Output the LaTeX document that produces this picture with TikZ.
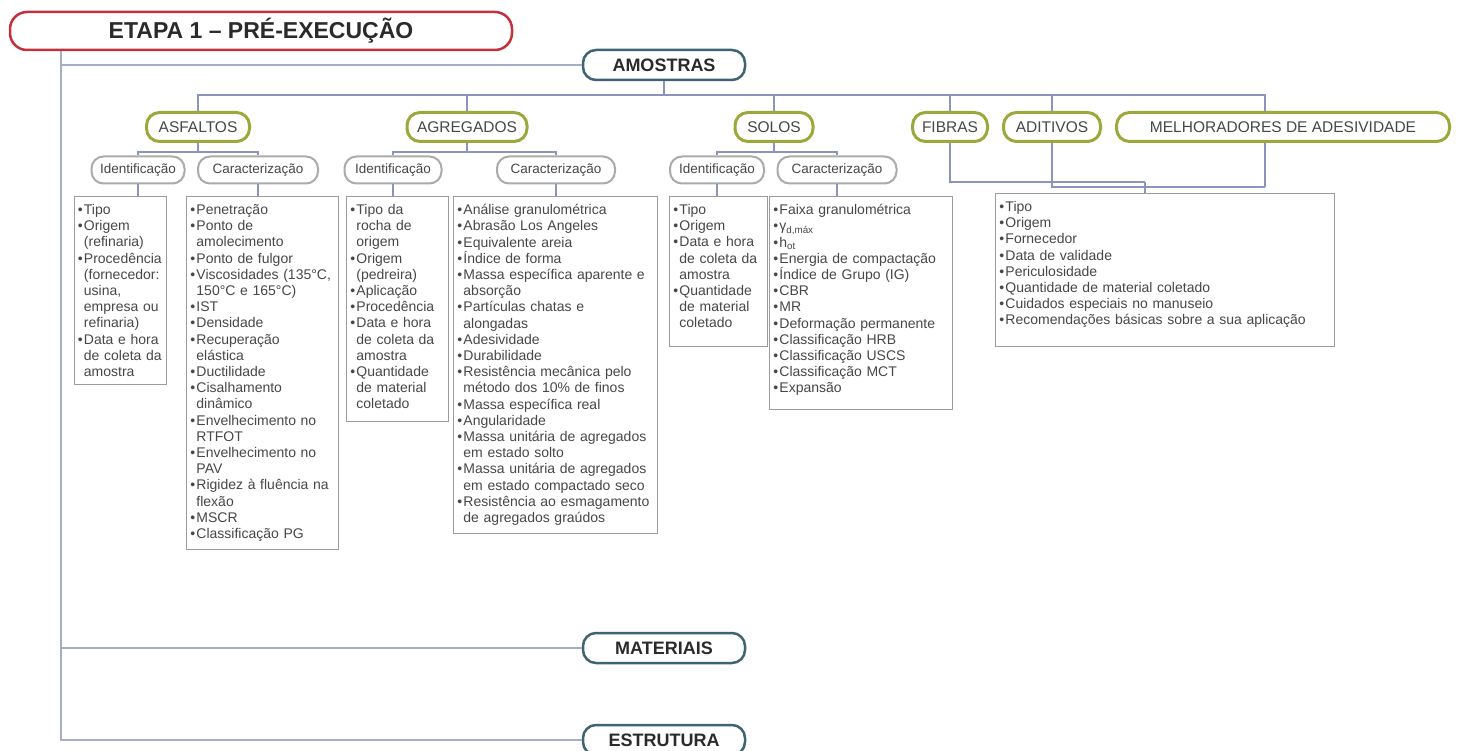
\documentclass[tikz,border=0pt]{standalone}
\usepackage{fontspec}
\setmainfont{Liberation Sans}
\usetikzlibrary{calc}

\definecolor{etapared}{HTML}{C3303E}
\definecolor{groupteal}{HTML}{3E6373}
\definecolor{catgreen}{HTML}{9CA83C}
\definecolor{subgray}{HTML}{ABABAB}
\definecolor{listgray}{HTML}{9C9C9C}
\definecolor{linkblue}{HTML}{8A94BC}
\definecolor{spineblue}{HTML}{A5AEC6}
\definecolor{inkgray}{HTML}{474747}
\definecolor{headink}{HTML}{2A2A2A}

% one bullet item, continuation lines hang under the text
\newcommand{\bl}[1]{\hangindent=6pt\hangafter=1\makebox[6pt][l]{\textbullet}{\let\\\newline#1}\par}
% extra room under the last line
\newcommand{\pad}[1]{\rule[-#1]{0pt}{#1}}

\tikzset{
  etapa/.style={draw=etapared, line width=2.5pt, rounded corners=17pt, fill=white,
    minimum width=502pt, minimum height=38pt,
    font=\fontsize{23}{25}\selectfont\bfseries, text=headink},
  groupbox/.style={draw=groupteal, line width=2.5pt, rounded corners=13pt, fill=white,
    minimum width=162pt, minimum height=30pt,
    font=\fontsize{18}{20}\selectfont\bfseries, text=headink},
  category/.style={draw=catgreen, line width=3pt, rounded corners=13pt, fill=white,
    minimum height=29pt, font=\fontsize{15.5}{17}\selectfont, text=inkgray},
  subcat/.style={draw=subgray, line width=2pt, rounded corners=12pt, fill=white,
    minimum height=27pt, font=\fontsize{13.5}{15}\selectfont, text=inkgray},
  itemlist/.style={draw=listgray, line width=0.9pt, fill=white, anchor=north west,
    align=left, inner xsep=4pt, inner ysep=8pt,
    font=\fontsize{14}{16.2}\selectfont, text=inkgray},
  link/.style={draw=linkblue, line width=1.5pt},
  spine/.style={draw=spineblue, line width=2pt},
}

\begin{document}
\begin{tikzpicture}[x=1pt, y=-1pt]
  \useasboundingbox (0,0) rectangle (1459,751);

  % stage and groups
  \node[etapa] (title) at (261,31) {ETAPA 1 – PRÉ-EXECUÇÃO};
  \node[groupbox] (amostras) at (664,65) {AMOSTRAS};
  \node[groupbox] (materiais) at (664,648) {MATERIAIS};
  \node[groupbox] (estrutura) at (664,740) {ESTRUTURA};

  % sample types
  \node[category, minimum width=103pt] (asfaltos) at (198,127) {ASFALTOS};
  \node[category, minimum width=120pt] (agregados) at (467,127) {AGREGADOS};
  \node[category, minimum width=78pt] (solos) at (774,127) {SOLOS};
  \node[category, minimum width=75pt] (fibras) at (950,127) {FIBRAS};
  \node[category, minimum width=97pt] (aditivos) at (1052,127) {ADITIVOS};
  \node[category, minimum width=333pt] (melhoradores) at (1283,127) {MELHORADORES DE ADESIVIDADE};

  \node[subcat, minimum width=93pt] (asf id) at (138,170) {Identificação};
  \node[subcat, minimum width=120pt] (asf car) at (258,170) {Caracterização};
  \node[subcat, minimum width=97pt] (agr id) at (393,170) {Identificação};
  \node[subcat, minimum width=118pt] (agr car) at (556,170) {Caracterização};
  \node[subcat, minimum width=94pt] (sol id) at (717,170) {Identificação};
  \node[subcat, minimum width=119pt] (sol car) at (837,170) {Caracterização};

  % lists
  \node[itemlist, text width=85pt, inner xsep=3.5pt] (asf id list) at (74,196) {%
    \bl{Tipo}
    \bl{Origem\\(refinaria)}
    \bl{Procedência\\(fornecedor:\\usina,\\empresa ou\\refinaria)}
    \bl{Data e hora\\de coleta da\\amostra}};
  \node[itemlist, text width=144pt] (asf car list) at (186,196) {%
    \bl{Penetração}
    \bl{Ponto de\\amolecimento}
    \bl{Ponto de fulgor}
    \bl{Viscosidades (135°C,\\150°C e 165°C)}
    \bl{IST}
    \bl{Densidade}
    \bl{Recuperação\\elástica}
    \bl{Ductilidade}
    \bl{Cisalhamento\\dinâmico}
    \bl{Envelhecimento no\\RTFOT}
    \bl{Envelhecimento no\\PAV}
    \bl{Rigidez à fluência na\\flexão}
    \bl{MSCR}
    \bl{Classificação PG}};
  \node[itemlist, text width=94pt] (agr id list) at (346,196) {%
    \bl{Tipo da\\rocha de\\origem}
    \bl{Origem\\(pedreira)}
    \bl{Aplicação}
    \bl{Procedência}
    \bl{Data e hora\\de coleta da\\amostra}
    \bl{Quantidade\\de material\\coletado\pad{4pt}}};
  \node[itemlist, text width=196pt] (agr car list) at (453,196) {%
    \bl{Análise granulométrica}
    \bl{Abrasão Los Angeles}
    \bl{Equivalente areia}
    \bl{Índice de forma}
    \bl{Massa específica aparente e\\absorção}
    \bl{Partículas chatas e\\alongadas}
    \bl{Adesividade}
    \bl{Durabilidade}
    \bl{Resistência mecânica pelo\\método dos 10\% de finos}
    \bl{Massa específica real}
    \bl{Angularidade}
    \bl{Massa unitária de agregados\\em estado solto}
    \bl{Massa unitária de agregados\\em estado compactado seco}
    \bl{Resistência ao esmagamento\\de agregados graúdos}};
  \node[itemlist, text width=90pt] (sol id list) at (669,196) {%
    \bl{Tipo}
    \bl{Origem}
    \bl{Data e hora\\de coleta da\\amostra}
    \bl{Quantidade\\de material\\coletado\pad{10pt}}};
  \node[itemlist, text width=175pt] (sol car list) at (769,196) {%
    \bl{Faixa granulométrica}
    \bl{γ\textsubscript{d,máx}}
    \bl{h\textsubscript{ot}}
    \bl{Energia de compactação}
    \bl{Índice de Grupo (IG)}
    \bl{CBR}
    \bl{MR}
    \bl{Deformação permanente}
    \bl{Classificação HRB}
    \bl{Classificação USCS}
    \bl{Classificação MCT}
    \bl{Expansão\pad{8pt}}};
  \node[itemlist, text width=331pt] (addit list) at (995,193) {%
    \bl{Tipo}
    \bl{Origem}
    \bl{Fornecedor}
    \bl{Data de validade}
    \bl{Periculosidade}
    \bl{Quantidade de material coletado}
    \bl{Cuidados especiais no manuseio}
    \bl{Recomendações básicas sobre a sua aplicação\pad{13pt}}};

  % spine
  \coordinate (spine top) at ($(title.south west)+(52,0)$);
  \draw[spine] (spine top) |- (amostras);
  \draw[spine] (spine top) |- (materiais);
  \draw[spine] (spine top) |- (estrutura);

  % amostras bus
  \coordinate (sample bus) at ($(amostras.south)+(0,14)$);
  \draw[link] (amostras) -- (sample bus);
  \draw[link] (sample bus) -| (asfaltos);
  \draw[link] (sample bus) -| (agregados);
  \draw[link] (sample bus) -| (solos);
  \draw[link] (sample bus) -| (fibras);
  \draw[link] (sample bus) -| (aditivos);
  \coordinate (melh drop) at ($(melhoradores.north)+(-18,0)$);
  \draw[link] (sample bus) -| (melh drop);

  % fibras, aditivos, melhoradores share one list
  \coordinate (melh foot) at ($(melhoradores.south)+(-18,44)$);
  \coordinate (addit join) at ($(addit list.north west)+(150,-11)$);
  \draw[link] (melhoradores.south -| melh drop) -- (melh foot);
  \draw[link] (aditivos) |- (melh foot);
  \draw[link] (fibras) |- (addit join);
  \draw[link] (addit join) -- (addit join |- addit list.north);

  % identificação / caracterização
  \draw[link] (asfaltos) -- ++(0,25) -| (asf id);
  \draw[link] (asfaltos) -- ++(0,25) -| (asf car);
  \draw[link] (agregados) -- ++(0,25) -| (agr id);
  \draw[link] (agregados) -- ++(0,25) -| (agr car);
  \draw[link] (solos) -- ++(0,25) -| (sol id);
  \draw[link] (solos) -- ++(0,25) -| (sol car);

  \draw[link] (asf id) -- (asf id |- asf id list.north);
  \draw[link] (asf car) -- (asf car |- asf car list.north);
  \draw[link] (agr id) -- (agr id |- agr id list.north);
  \draw[link] (agr car) -- (agr car |- agr car list.north);
  \draw[link] (sol id) -- (sol id |- sol id list.north);
  \draw[link] (sol car) -- (sol car |- sol car list.north);
\end{tikzpicture}
\end{document}
